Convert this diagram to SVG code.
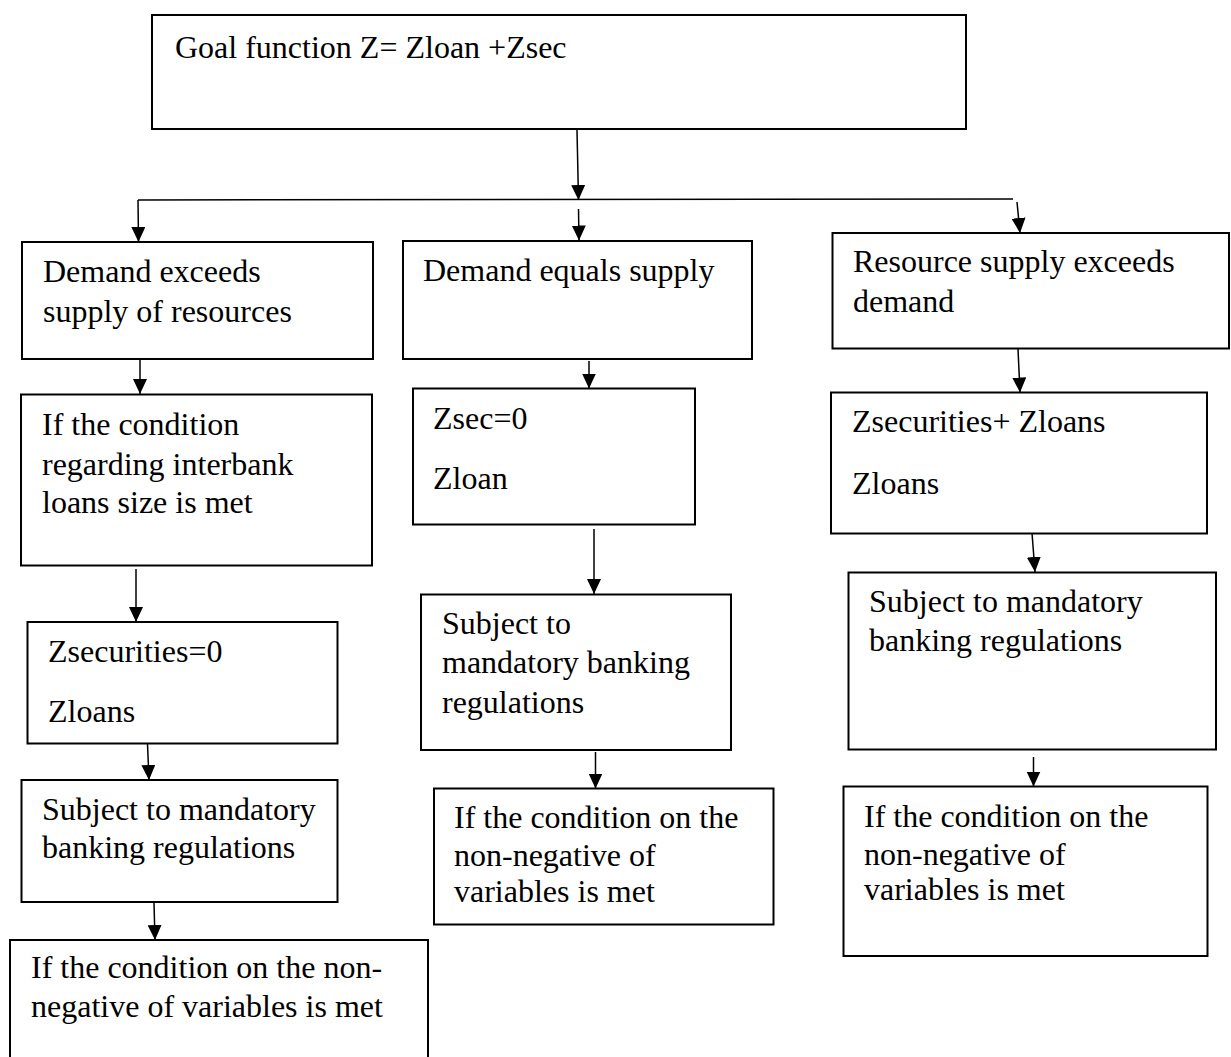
<svg xmlns="http://www.w3.org/2000/svg" width="1231" height="1057" viewBox="0 0 1231 1057">
<style>
.box{fill:#fff;stroke:#000;stroke-width:2}
.t{font-family:"Liberation Serif","Times New Roman",serif;font-size:32px;fill:#000}
.c{fill:none;stroke:#000;stroke-width:1.5}
.a{marker-end:url(#ah)}
</style>
<defs>
<marker id="ah" viewBox="0 0 15 14" refX="15" refY="7" markerWidth="15" markerHeight="14" markerUnits="userSpaceOnUse" orient="auto">
<path d="M0,0 L15,7 L0,14 z" fill="#000"/>
</marker>
</defs>
<rect width="1231" height="1057" fill="#fff"/>
<g id="connectors">
<path class="c a" d="M577,130 L578.5,200"/>
<path class="c" d="M138,200 L1013,199"/>
<path class="c a" d="M138,200 L138.5,242"/>
<path class="c a" d="M578.5,209 L579,240.5"/>
<path class="c a" d="M1017,202 L1020,233"/>
<path class="c a" d="M140,359 L140,394"/>
<path class="c a" d="M136,569 L136,622"/>
<path class="c a" d="M147.5,744 L149,780"/>
<path class="c a" d="M154,903 L155,940"/>
<path class="c a" d="M589,361 L589,388.5"/>
<path class="c a" d="M594,529 L594,594"/>
<path class="c a" d="M595.5,752 L595.5,788.5"/>
<path class="c a" d="M1018,349 L1020,392.5"/>
<path class="c a" d="M1032,533 L1035,572"/>
<path class="c a" d="M1033.5,757 L1033.5,786.5"/>
</g>
<g id="goal">
<rect class="box" x="152" y="15" width="814" height="114" stroke-width="3"/>
<text class="t" x="175" y="58">Goal function Z= Zloan +Zsec</text>
</g>
<g id="left1">
<rect class="box" x="22" y="242" width="351" height="117"/>
<text class="t" x="43" y="282">Demand exceeds</text>
<text class="t" x="43" y="322">supply of resources</text>
</g>
<g id="left2">
<rect class="box" x="21" y="394.5" width="351" height="171"/>
<text class="t" x="42" y="435">If the condition</text>
<text class="t" x="42" y="475">regarding interbank</text>
<text class="t" x="42" y="513">loans size is met</text>
</g>
<g id="left3">
<rect class="box" x="27.5" y="622" width="310" height="121.5"/>
<text class="t" x="48" y="662">Zsecurities=0</text>
<text class="t" x="48" y="722">Zloans</text>
</g>
<g id="left4">
<rect class="box" x="21.5" y="780" width="316" height="122"/>
<text class="t" x="42" y="820">Subject to mandatory</text>
<text class="t" x="42" y="858">banking regulations</text>
</g>
<g id="left5">
<rect class="box" x="10" y="940" width="418" height="125"/>
<text class="t" x="31" y="978">If the condition on the non-</text>
<text class="t" x="31" y="1017">negative of variables is met</text>
</g>
<g id="mid1">
<rect class="box" x="403" y="241" width="349" height="118"/>
<text class="t" x="423" y="281">Demand equals supply</text>
</g>
<g id="mid2">
<rect class="box" x="413" y="388.5" width="282" height="136"/>
<text class="t" x="433" y="429">Zsec=0</text>
<text class="t" x="433" y="489">Zloan</text>
</g>
<g id="mid3">
<rect class="box" x="421" y="594.5" width="310" height="155.5"/>
<text class="t" x="442" y="634">Subject to</text>
<text class="t" x="442" y="673">mandatory banking</text>
<text class="t" x="442" y="713">regulations</text>
</g>
<g id="mid4">
<rect class="box" x="434" y="788.5" width="339.5" height="136"/>
<text class="t" x="454" y="828">If the condition on the</text>
<text class="t" x="454" y="866">non-negative of</text>
<text class="t" x="454" y="902">variables is met</text>
</g>
<g id="right1">
<rect class="box" x="832.5" y="233" width="396.5" height="115.5"/>
<text class="t" x="853" y="272">Resource supply exceeds</text>
<text class="t" x="853" y="312">demand</text>
</g>
<g id="right2">
<rect class="box" x="831" y="392.5" width="376" height="141"/>
<text class="t" x="852" y="432">Zsecurities+ Zloans</text>
<text class="t" x="852" y="494">Zloans</text>
</g>
<g id="right3">
<rect class="box" x="848.5" y="572.5" width="367.5" height="177"/>
<text class="t" x="869" y="612">Subject to mandatory</text>
<text class="t" x="869" y="651">banking regulations</text>
</g>
<g id="right4">
<rect class="box" x="843.5" y="786.5" width="364" height="169.5"/>
<text class="t" x="864" y="827">If the condition on the</text>
<text class="t" x="864" y="865">non-negative of</text>
<text class="t" x="864" y="900">variables is met</text>
</g>
</svg>
